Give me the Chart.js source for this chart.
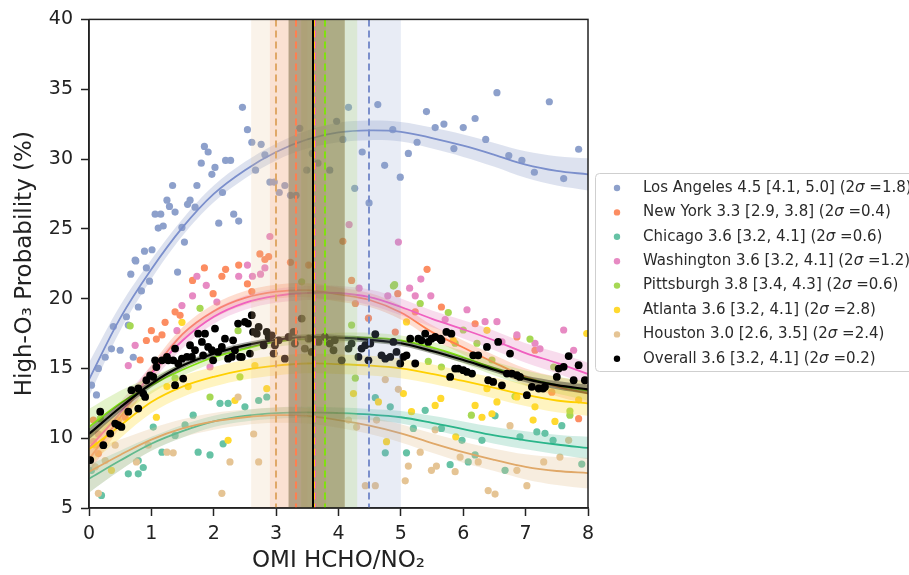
<!DOCTYPE html>
<html>
<head>
<meta charset="utf-8">
<script src="https://cdn.jsdelivr.net/npm/chart.js@4.4.1/dist/chart.umd.min.js"></script>
<style>
  body { margin: 0; background: #fff; }
  #wrap { width: 909px; height: 575px; }
</style>
</head>
<body>
<div id="wrap"><canvas id="ratio" width="909" height="575"></canvas></div>
<script>
'use strict';

// cities, in legend order
const cities = ['Los Angeles', 'New York', 'Chicago', 'Washington', 'Pittsburgh', 'Atlanta', 'Houston', 'Overall'];
const bestRatio = [4.5, 3.3, 3.6, 3.6, 3.8, 3.6, 3.0, 3.6];
const lineRatio = [4.49, 3.32, 3.6, 3.62, 3.78, 3.6, 3.0, 3.59];
const rangeLo = [4.1, 2.9, 3.2, 3.2, 3.4, 3.2, 2.6, 3.2];
const rangeHi = [5.0, 3.8, 4.1, 4.1, 4.3, 4.1, 3.5, 4.1];
const twoSigma = [1.8, 0.4, 0.6, 1.2, 0.6, 2.8, 2.4, 0.2];

const pointColors = ['#8da0cb', '#fc8d62', '#66c2a5', '#e78ac3', '#a6d854', '#ffd92f', '#e5c494', '#000000'];
const lineColors = ['#7b8fcc', '#ff7f50', '#2ab58a', '#f060c0', '#80e010', '#ffd000', '#e0a868', '#000000'];

// fitted curves (x grid + values)
const fitX = [0, 0.5, 1, 1.5, 2, 2.5, 3, 3.5, 4, 4.5, 5, 5.5, 6, 6.5, 7, 7.5, 8];
const laFit = [14.2, 18.6, 22.1, 25.1, 27.5, 29.2, 30.5, 31.4, 31.9, 32.05, 31.95, 31.5, 30.95, 30.3, 29.6, 29.15, 28.9];
const nyFit = [8.5, 11.5, 14.7, 17.45, 19.1, 20.05, 20.5, 20.6, 20.3, 19.9, 19.0, 17.6, 16.5, 15.4, 14.4, 13.7, 13.2];
const chFit = [7.1, 8.4, 9.6, 10.5, 11.2, 11.6, 11.8, 11.85, 11.8, 11.7, 11.5, 11.1, 10.65, 10.2, 9.85, 9.55, 9.3];
const waFit = [9.3, 11.8, 14.6, 17.0, 18.7, 19.7, 20.2, 20.4, 20.4, 20.1, 19.4, 18.55, 17.8, 17.0, 16.1, 15.4, 14.6];
const piFit = [10.8, 12.5, 13.8, 14.9, 15.8, 16.4, 16.9, 17.1, 17.2, 17.2, 17.0, 16.5, 15.8, 15.0, 14.3, 13.8, 13.4];
const atFit = [9.2, 10.9, 12.6, 13.7, 14.4, 14.9, 15.2, 15.35, 15.3, 15.2, 15.0, 14.6, 14.1, 13.6, 13.1, 12.7, 12.5];
const hoFit = [7.6, 8.8, 9.9, 10.7, 11.2, 11.5, 11.65, 11.6, 11.3, 10.9, 10.35, 9.65, 9.0, 8.45, 7.95, 7.65, 7.5];
const allFit = [10.3, 12.2, 13.9, 15.2, 16.05, 16.65, 17.05, 17.25, 17.2, 17.05, 16.8, 16.25, 15.6, 14.9, 14.25, 13.8, 13.5];

// half widths of the shaded bands
const laBand = [1.2, 0.9, 0.7, 0.6, 0.6, 0.6, 0.6, 0.65, 0.7, 0.7, 0.7, 0.75, 0.8, 0.85, 0.95, 1.05, 1.15];
const nyBand = [1.0, 0.7, 0.55, 0.5, 0.5, 0.5, 0.5, 0.5, 0.5, 0.5, 0.5, 0.5, 0.5, 0.55, 0.6, 0.7, 0.8];
const chBand = [1.0, 0.7, 0.5, 0.45, 0.4, 0.4, 0.4, 0.4, 0.4, 0.4, 0.45, 0.5, 0.55, 0.6, 0.65, 0.7, 0.8];
const waBand = [1.0, 0.8, 0.6, 0.55, 0.5, 0.5, 0.5, 0.5, 0.5, 0.55, 0.6, 0.6, 0.65, 0.7, 0.7, 0.75, 0.8];
const piBand = [1.3, 0.9, 0.6, 0.45, 0.4, 0.35, 0.35, 0.35, 0.35, 0.35, 0.35, 0.4, 0.45, 0.5, 0.55, 0.6, 0.7];
const atBand = [1.1, 0.9, 0.8, 0.75, 0.7, 0.7, 0.7, 0.7, 0.7, 0.7, 0.7, 0.7, 0.7, 0.75, 0.8, 0.85, 0.9];
const hoBand = [1.5, 1.1, 0.8, 0.65, 0.6, 0.55, 0.55, 0.55, 0.55, 0.6, 0.65, 0.7, 0.75, 0.8, 0.9, 1.0, 1.1];
const allBand = [0.4, 0.3, 0.25, 0.2, 0.2, 0.2, 0.2, 0.2, 0.2, 0.2, 0.2, 0.2, 0.2, 0.2, 0.25, 0.3, 0.35];

// scatter points [ratio, probability]
const laPts = [[2.46,33.7],[2.54,32.1],[2.61,31.2],[2.76,31.05],[2.82,30.3],[2.67,29.2],[2.90,28.35],[2.97,28.35],[3.05,27.6],[3.14,28.1],[3.23,27.4],[3.32,27.4],[3.38,32.2],[3.58,30.4],[3.67,29.7],[3.49,29.2],[3.86,29.2],[3.97,32.7],[4.07,31.4],[4.16,33.7],[4.63,33.9],[4.87,32.1],[4.38,30.5],[4.49,26.85],[4.74,29.55],[4.99,28.7],[5.12,30.4],[5.26,31.2],[5.41,33.4],[5.55,32.25],[5.69,32.5],[5.85,30.75],[6.00,32.25],[6.19,32.9],[6.36,31.4],[6.54,34.75],[6.73,30.25],[6.94,29.9],[7.14,29.05],[7.38,34.1],[7.61,28.6],[7.85,30.7],[1.85,30.9],[1.91,30.5],[1.80,29.7],[2.02,29.4],[1.97,28.9],[2.19,29.9],[2.27,29.9],[2.14,27.6],[1.73,28.1],[1.34,28.1],[1.25,27.05],[1.29,26.6],[1.38,26.2],[1.62,27.05],[1.58,26.75],[1.70,26.55],[1.06,26.05],[1.15,26.05],[1.11,25.05],[1.19,25.2],[1.49,25.1],[1.53,24.05],[2.08,25.4],[2.32,26.05],[2.40,25.55],[1.01,23.5],[0.89,23.4],[0.75,22.7],[0.92,22.2],[0.67,21.75],[0.97,21.25],[0.84,20.55],[1.42,21.9],[0.74,22.75],[0.79,19.4],[0.60,18.7],[0.39,18.0],[0.50,16.3],[0.26,15.8],[0.15,15.0],[0.12,13.1],[0.71,15.8],[0.36,16.4],[0.63,18.1],[0.04,13.8],[4.26,27.9]];
const nyPts = [[2.74,23.2],[2.82,22.8],[2.88,23.0],[1.85,22.2],[2.19,22.1],[2.40,22.4],[2.13,21.6],[1.66,21.3],[2.54,21.05],[1.99,20.35],[2.61,20.5],[3.23,22.6],[3.52,22.4],[4.07,24.1],[4.21,21.3],[5.42,22.1],[4.95,20.35],[1.38,19.05],[1.46,18.8],[1.22,18.3],[1.00,17.7],[1.08,17.1],[1.17,17.4],[0.92,17.0],[0.82,15.6],[5.23,19.05],[5.65,19.4],[6.19,18.2],[6.86,17.25],[7.15,16.3],[7.85,11.4],[7.42,13.3],[4.48,18.6],[4.27,19.65],[4.91,17.6],[0.07,11.3],[0.15,8.9],[0.58,11.5]];
const chPts = [[2.10,12.5],[2.23,12.5],[2.50,12.25],[2.72,12.7],[2.85,12.95],[1.67,11.65],[1.54,10.95],[1.03,10.8],[1.17,9.0],[1.75,9.0],[1.94,8.8],[2.15,9.6],[0.79,8.4],[0.87,7.9],[0.79,7.45],[0.63,7.45],[0.20,5.9],[0.04,7.7],[1.38,10.2],[4.59,12.9],[4.83,12.25],[4.75,8.95],[5.39,12.0],[5.09,8.95],[5.20,10.7],[5.65,10.7],[5.98,9.85],[6.08,8.3],[6.19,8.8],[5.79,8.1],[6.30,9.85],[6.51,11.6],[6.67,7.7],[6.91,10.1],[7.18,10.45],[7.31,10.35],[7.58,10.9],[7.44,9.85],[7.90,8.15]];
const waPts = [[2.90,24.45],[2.82,22.2],[2.75,21.75],[2.62,21.6],[2.54,22.4],[2.40,21.6],[1.88,20.95],[1.73,21.6],[1.66,20.2],[4.96,24.05],[4.33,20.75],[4.79,20.2],[5.14,20.75],[5.32,21.4],[5.48,20.2],[5.23,20.2],[4.17,25.3],[1.49,19.5],[1.41,17.7],[0.74,16.65],[0.63,15.2],[2.05,19.75],[1.94,15.1],[0.07,9.75],[0.15,10.3],[6.06,19.2],[6.35,18.35],[6.54,18.35],[6.86,17.4],[7.23,16.4],[7.61,17.75],[7.77,16.3],[7.15,16.8],[6.62,16.9],[5.71,18.5]];
const piPts = [[1.78,19.3],[0.66,18.05],[1.38,14.3],[1.94,12.95],[2.42,14.4],[2.39,17.7],[0.18,11.4],[4.90,21.0],[5.31,19.65],[5.76,19.0],[6.00,17.75],[6.22,16.8],[6.13,11.65],[5.87,16.8],[6.46,15.6],[7.07,17.1],[7.45,15.1],[7.71,11.65],[5.44,15.5],[5.65,15.1],[6.83,13.0],[4.27,14.3],[4.21,18.1],[4.88,20.9],[3.41,21.2],[7.71,11.95]];
const atPts = [[5.09,18.33],[6.38,17.73],[5.84,17.0],[6.38,13.55],[6.86,12.95],[7.15,12.25],[6.54,12.6],[6.19,12.35],[6.30,11.5],[6.46,11.75],[5.55,12.35],[5.64,12.85],[5.17,11.9],[5.88,10.1],[7.12,11.3],[7.47,11.2],[7.85,12.75],[7.98,17.5],[4.77,9.75],[1.49,18.3],[1.25,13.7],[1.59,13.7],[1.08,11.5],[2.23,9.85],[2.85,13.55],[2.66,15.2],[2.34,12.7],[0.47,11.3],[0.36,7.7],[0.10,9.5],[4.24,13.2],[4.64,12.6],[5.04,13.2]];
const hoPts = [[4.75,14.2],[4.96,13.5],[4.61,11.3],[4.29,10.8],[4.16,11.3],[5.12,8.0],[5.31,9.0],[5.49,7.7],[5.57,8.0],[5.95,8.65],[5.87,7.6],[6.24,8.3],[6.75,10.9],[6.86,7.7],[6.40,6.25],[6.51,6.0],[7.02,6.6],[7.29,8.3],[7.55,8.65],[7.69,9.85],[5.07,6.95],[4.59,6.6],[4.43,6.6],[5.55,10.6],[2.26,8.3],[2.13,6.05],[2.72,8.3],[2.64,10.3],[1.35,8.95],[1.25,9.0],[0.76,8.3],[0.95,9.5],[0.42,9.5],[0.26,8.4],[0.10,7.95],[0.15,6.05],[2.39,12.95]];
const allPts = [[0.02,8.43],[0.18,11.9],[0.23,9.5],[0.34,10.33],[0.42,11.05],[0.47,10.93],[0.52,10.81],[0.63,11.9],[0.68,13.44],[0.79,12.12],[0.79,13.56],[0.87,13.2],[0.90,12.96],[0.92,14.15],[0.98,14.5],[1.03,14.4],[1.06,15.58],[1.08,15.1],[1.17,15.58],[1.25,15.82],[1.27,15.58],[1.35,15.58],[1.38,16.42],[1.38,13.8],[1.43,15.35],[1.49,15.7],[1.51,14.27],[1.57,15.82],[1.62,16.66],[1.65,15.82],[1.70,16.3],[1.75,17.49],[1.81,16.9],[1.83,15.94],[1.86,17.49],[1.91,16.54],[1.97,16.3],[1.99,15.58],[2.02,17.85],[2.07,16.18],[2.13,16.54],[2.18,17.13],[2.23,15.7],[2.29,15.82],[2.31,17.01],[2.34,16.3],[2.39,18.21],[2.42,15.82],[2.45,15.82],[2.50,18.33],[2.55,18.21],[2.58,16.06],[2.61,18.81],[2.63,17.61],[2.69,17.49],[2.72,17.97],[2.80,16.66],[2.85,17.61],[2.88,17.25],[2.93,17.37],[2.96,16.06],[2.98,16.66],[3.04,17.01],[3.14,15.7],[3.20,17.25],[3.28,17.61],[3.30,16.78],[3.41,18.57],[3.46,16.42],[3.52,17.13],[3.57,16.18],[3.68,16.9],[3.78,17.25],[3.86,16.78],[3.92,16.3],[3.94,17.02],[4.05,15.58],[4.16,16.42],[4.21,16.78],[4.32,15.82],[4.37,16.42],[4.43,16.66],[4.48,15.58],[4.51,16.78],[4.59,17.45],[4.69,15.94],[4.75,15.7],[4.83,15.82],[4.88,16.9],[4.93,16.18],[4.99,15.35],[5.04,15.82],[5.09,15.94],[5.15,17.13],[5.23,15.35],[5.28,17.13],[5.33,17.01],[5.39,17.49],[5.44,16.9],[5.49,17.13],[5.55,17.25],[5.63,17.13],[5.65,17.02],[5.73,17.61],[5.79,14.39],[5.81,17.49],[5.87,14.99],[5.92,14.99],[6.00,14.87],[6.06,14.75],[6.14,14.63],[6.16,15.94],[6.24,15.94],[6.38,16.54],[6.40,14.15],[6.48,14.03],[6.56,16.9],[6.62,13.79],[6.70,14.63],[6.75,16.06],[6.78,14.63],[6.86,14.51],[6.91,14.39],[7.02,13.08],[7.10,13.68],[7.21,13.56],[7.28,13.56],[7.31,13.68],[7.50,14.39],[7.53,14.99],[7.61,15.11],[7.69,15.88],[7.77,14.15],[7.85,15.23],[7.95,14.15]];

const pts = [laPts, nyPts, chPts, waPts, piPts, atPts, hoPts, allPts];
const fits = [laFit, nyFit, chFit, waFit, piFit, atFit, hoFit, allFit];
const bands = [laBand, nyBand, chBand, waBand, piBand, atBand, hoBand, allBand];

function rgba(hex, a) {
    const n = parseInt(hex.slice(1), 16);
    return 'rgba(' + (n >> 16) + ',' + ((n >> 8) & 255) + ',' + (n & 255) + ',' + a + ')';
}

// build datasets in drawing order (first = bottom)
var sets = [];
for (var i = 0; i < cities.length; i++) {
    if (i === 7) continue;
    sets.push({
        type: 'scatter',
        data: pts[i].map(p => ({ x: p[0], y: p[1] })),
        backgroundColor: pointColors[i],
        pointRadius: 3.6,
        pointBorderWidth: 0,
        pointHoverRadius: 3.6
    });
}
for (var i = 0; i < cities.length; i++) {
    const f = fits[i], b = bands[i];
    sets.push({
        type: 'line',
        data: fitX.map((x, k) => ({ x: x, y: f[k] - b[k] })),
        borderWidth: 0, pointRadius: 0, tension: 0.35, fill: false
    });
    sets.push({
        type: 'line',
        data: fitX.map((x, k) => ({ x: x, y: f[k] + b[k] })),
        borderWidth: 0, pointRadius: 0, tension: 0.35,
        fill: '-1', backgroundColor: rgba(pointColors[i], i === 7 ? 0.35 : 0.3)
    });
    if (i === 7) {
        sets.push({
            type: 'scatter',
            data: pts[i].map(p => ({ x: p[0], y: p[1] })),
            backgroundColor: '#000',
            pointRadius: 3.9, pointBorderWidth: 0
        });
    }
    sets.push({
        type: 'line',
        data: fitX.map((x, k) => ({ x: x, y: f[k] })),
        borderColor: lineColors[i], borderWidth: i === 7 ? 2.2 : 1.8,
        pointRadius: 0, tension: 0.35, fill: false
    });
}
sets.forEach((s, k) => { s.order = sets.length - k; });

const spanPlugin = {
    id: 'spans',
    afterDatasetsDraw(chart) {
        const { ctx, chartArea: a, scales: { x } } = chart;
        ctx.save();
        ctx.beginPath();
        ctx.rect(a.left, a.top, a.right - a.left, a.bottom - a.top);
        ctx.clip();
        for (var i = 0; i < cities.length; i++) {
            const x0 = x.getPixelForValue(rangeLo[i]);
            const x1 = x.getPixelForValue(rangeHi[i]);
            ctx.fillStyle = rgba(pointColors[i], i === 7 ? 0.22 : 0.2);
            ctx.fillRect(x0, a.top, x1 - x0, a.bottom - a.top);
        }
        for (var i = 0; i < cities.length; i++) {
            const px = Math.round(x.getPixelForValue(lineRatio[i]));
            ctx.setLineDash(i === 7 ? [] : [7, 4]);
            ctx.strokeStyle = lineColors[i];
            ctx.lineWidth = 2;
            ctx.beginPath();
            ctx.moveTo(px, a.top);
            ctx.lineTo(px, a.bottom);
            ctx.stroke();
        }
        ctx.restore();
    }
};

const framePlugin = {
    id: 'frame',
    afterDraw(chart) {
        const { ctx, chartArea: a } = chart;
        ctx.save();
        ctx.strokeStyle = '#222';
        ctx.lineWidth = 1.5;
        ctx.strokeRect(a.left, a.top, a.right - a.left, a.bottom - a.top);

        // legend box
        ctx.strokeStyle = '#cfcfcf';
        ctx.lineWidth = 1;
        ctx.fillStyle = '#fff';
        ctx.beginPath();
        ctx.roundRect(595.5, 173.5, 340, 198, 4);
        ctx.fill();
        ctx.stroke();
        ctx.textBaseline = 'middle';
        for (var i = 0; i < cities.length; i++) {
            const y = 188 + i * 24.4;
            ctx.fillStyle = pointColors[i];
            ctx.beginPath();
            ctx.arc(617, y, 3.2, 0, Math.PI * 2);
            ctx.fill();
            const head = cities[i] + ' ' + bestRatio[i].toFixed(1) + ' [' + rangeLo[i].toFixed(1) + ', ' + rangeHi[i].toFixed(1) + '] (2';
            const tail = ' =' + twoSigma[i].toFixed(1) + ')';
            ctx.fillStyle = '#2a2a2a';
            ctx.font = '15px "DejaVu Sans"';
            var tx = 643;
            ctx.fillText(head, tx, y);
            tx += ctx.measureText(head).width;
            ctx.font = 'italic 15px "DejaVu Sans"';
            ctx.fillText('σ', tx, y);
            tx += ctx.measureText('σ').width;
            ctx.font = '15px "DejaVu Sans"';
            ctx.fillText(tail, tx, y);
        }
        ctx.restore();
    }
};

const axisFont = { family: 'DejaVu Sans', size: 19 };

var chart = new Chart(
    document.getElementById('ratio'),
    {
        type: 'scatter',
        data: { datasets: sets },
        options: {
            responsive: false,
            animation: false,
            devicePixelRatio: 1,
            layout: { padding: { top: 19, right: 321, left: 0, bottom: 0 } },
            plugins: {
                legend: { display: false },
                tooltip: { enabled: false }
            },
            scales: {
                x: {
                    type: 'linear',
                    min: 0, max: 8,
                    ticks: { stepSize: 1, color: '#222', font: axisFont, padding: 7 },
                    grid: { drawOnChartArea: false, drawTicks: true, tickLength: 8, tickColor: '#222', tickWidth: 1.5 },
                    border: { display: true, color: '#222', width: 1.5 },
                    title: { display: true, text: 'OMI HCHO/NO₂', color: '#222', font: { family: 'DejaVu Sans', size: 23 }, padding: { top: 0, bottom: 0 } },
                    afterFit: function (s) { s.height = 67; }
                },
                y: {
                    type: 'linear',
                    min: 5, max: 40,
                    ticks: { stepSize: 5, color: '#222', font: axisFont, padding: 8 },
                    grid: { drawOnChartArea: false, drawTicks: true, tickLength: 8, tickColor: '#222', tickWidth: 1.5 },
                    border: { display: true, color: '#222', width: 1.5 },
                    title: { display: true, text: 'High-O₃ Probability (%)', color: '#222', font: { family: 'DejaVu Sans', size: 23 }, padding: { top: 11, bottom: 0 } },
                    afterFit: function (s) { s.width = 89; }
                }
            }
        },
        plugins: [spanPlugin, framePlugin]
    }
);
</script>
</body>
</html>
